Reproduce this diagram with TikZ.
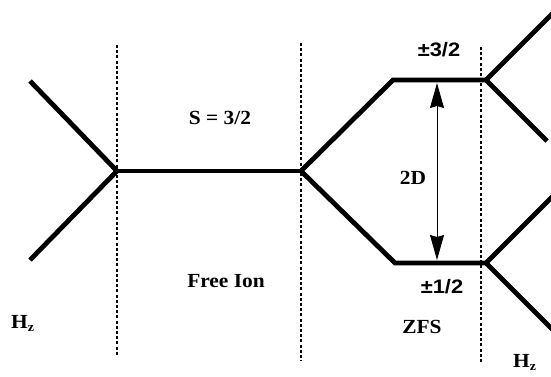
\documentclass[tikz,border=0pt]{standalone}
\usepackage{fontspec}
\setmainfont{Liberation Serif}[FakeStretch=1.07]
\newfontfamily\labelsans{Liberation Sans}[FakeStretch=1.12]
\usetikzlibrary{arrows.meta}
\tikzset{
  level/.style={line width=4.8pt, line cap=butt, line join=miter},
  divider/.style={line width=1.1pt, dash pattern=on 3pt off 2.2pt},
  gap/.style={line width=1pt, {Stealth[length=25pt,width=14pt,inset=2pt]}-{Stealth[length=25pt,width=14pt,inset=2pt]}},
  txt/.style={inner sep=0pt, font=\fontsize{20}{24}\selectfont\bfseries},
  mj/.style={inner sep=0pt, font=\fontsize{19.5}{23}\selectfont\labelsans\bfseries},
}
\begin{document}
\begin{tikzpicture}[x=1pt,y=-1pt]
\useasboundingbox (0,0) rectangle (551,376);
\clip (0,0) rectangle (551,376);
% level junctions
\coordinate (vL) at (117,171);
\coordinate (vM) at (301,171);
\coordinate (u1) at (393,80);
\coordinate (u2) at (486,80);
\coordinate (d1) at (395,263);
\coordinate (d2) at (486,263);
\coordinate (zl1) at (30,81);
\coordinate (zl2) at (30,260);
\coordinate (zr1) at (553,13);
\coordinate (zr2) at (547,141);
\coordinate (zr3) at (553,196);
\coordinate (zr4) at (553,330);
% dividers
\coordinate (a1) at (117,45);  \coordinate (a2) at (117,355);
\coordinate (b1) at (301,43);  \coordinate (b2) at (301,361);
\coordinate (c1) at (481,47);  \coordinate (c2) at (481,364);
\draw[divider] (a1) -- (a2);
\draw[divider] (b1) -- (b2);
\draw[divider] (c1) -- (c2);
% energy levels
\draw[level] (zl1) -- (vL) -- (zl2);
\draw[level] (vL) -- (vM);
\draw[level] (vM) -- (u1) -- (u2) -- (zr1);
\draw[level] (u2) -- (zr2);
\draw[level] (vM) -- (d1) -- (d2) -- (zr3);
\draw[level] (d2) -- (zr4);
% splitting arrow
\coordinate (g1) at (437,83);
\coordinate (g2) at (437,260);
\draw[gap] (g1) -- (g2);
% labels
\node[txt, anchor=base] (s) at (220,124) {S = 3/2};
\node[txt, anchor=base] (fi) at (226,287) {Free Ion};
\node[txt, anchor=base west] (hz1) at (11,328) {H\textsubscript{\fontsize{13}{13}\selectfont z}};
\node[txt, anchor=base] (dd) at (413,184) {2D};
\node[mj, anchor=base] (m3) at (439,56) {±3/2};
\node[mj, anchor=base] (m1) at (442,293) {±1/2};
\node[txt, anchor=base] (zfs) at (422,333) {ZFS};
\node[txt, anchor=base west] (hz2) at (513,367) {H\textsubscript{\fontsize{13}{13}\selectfont z}};
\end{tikzpicture}
\end{document}
